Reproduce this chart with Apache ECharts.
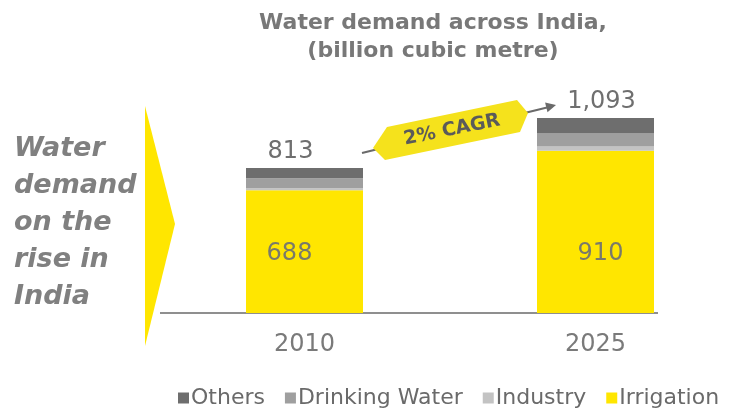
<!DOCTYPE html>
<html>
<head>
<meta charset="utf-8">
<script src="https://cdn.jsdelivr.net/npm/echarts@6/dist/echarts.min.js"></script>
<style>
html,body{margin:0;padding:0;background:#fff;}
#chart{width:731px;height:414px;}
</style>
</head>
<body>
<div id="chart"></div>
<script>
var categories = ['2010', '2025'];
var irrigation = [688, 910];
var industry = [12, 23];
var drinkingWater = [56, 73];
var others = [57, 87];
var totals = [813, 1093];
var legendNames = ['Others', 'Drinking Water', 'Industry', 'Irrigation'];

var FONT = '"DejaVu Sans", "Liberation Sans", Arial, sans-serif';
var chart = echarts.init(document.getElementById('chart'));

var totalOffsets = [[-14, 0], [6, 0]];
var innerOffsets = [[-15, 0], [5, 0]];

function withOffsets(values, offs) {
  return values.map(function (v, i) { return { value: v, label: { offset: offs[i] } }; });
}

var option = {
  backgroundColor: '#ffffff',
  animation: false,
  textStyle: { fontFamily: FONT },
  grid: { left: 304.5, right: 135.5, top: 99, bottom: 101, containLabel: false },
  xAxis: {
    type: 'category',
    data: categories,
    boundaryGap: false,
    axisLine: { show: false },
    axisTick: { show: false },
    axisLabel: { fontSize: 24, color: '#7a7a7a', margin: 20, fontFamily: FONT }
  },
  yAxis: {
    type: 'value',
    min: 0,
    max: 1200,
    show: false,
    splitLine: { show: false }
  },
  legend: {
    data: legendNames,
    left: 178,
    right: 0,
    top: 387,
    padding: 0,
    itemWidth: 11,
    itemHeight: 11,
    itemGap: 20,
    icon: 'rect',
    textStyle: { fontSize: 22, color: '#6a6a6a', fontFamily: FONT, padding: [0, 0, 0, -3] }
  },
  series: [
    {
      name: 'Irrigation', type: 'bar', stack: 'total', barWidth: 117,
      itemStyle: { color: '#FFE600' },
      data: withOffsets(irrigation, innerOffsets),
      label: {
        show: true, position: 'insideBottom', distance: 47,
        fontSize: 24, color: '#7a7a6a', fontFamily: FONT
      }
    },
    {
      name: 'Industry', type: 'bar', stack: 'total', barWidth: 117,
      itemStyle: { color: '#c3c3c3' },
      data: industry
    },
    {
      name: 'Drinking Water', type: 'bar', stack: 'total', barWidth: 117,
      itemStyle: { color: '#9f9f9f' },
      data: drinkingWater
    },
    {
      name: 'Others', type: 'bar', stack: 'total', barWidth: 117,
      itemStyle: { color: '#6e6e6e' },
      data: withOffsets(others, totalOffsets),
      label: {
        show: true, position: 'top', distance: 4,
        fontSize: 24, color: '#6f6f6f', fontFamily: FONT,
        formatter: function (p) { return totals[p.dataIndex].toLocaleString('en-US'); }
      }
    }
  ],
  graphic: [
    {
      type: 'text', x: 433, y: 9,
      style: {
        text: 'Water demand across India,\n(billion cubic metre)',
        font: 'bold 22px ' + FONT, fill: '#787878',
        lineHeight: 28, align: 'center', verticalAlign: 'top'
      }
    },
    {
      type: 'text', x: 14, y: 130,
      style: {
        text: 'Water\ndemand\non the\nrise in\nIndia',
        font: 'italic bold 27px ' + FONT, fill: '#808080',
        lineHeight: 37, verticalAlign: 'top'
      }
    },
    {
      type: 'polygon',
      shape: { points: [[145, 106], [175, 224], [145, 346]] },
      style: { fill: '#FFE600' }
    },
    {
      type: 'line',
      shape: { x1: 160, y1: 313, x2: 658, y2: 313 },
      style: { stroke: '#6a6a6a', lineWidth: 1.5 }
    },
    {
      type: 'line',
      shape: { x1: 362, y1: 153, x2: 547, y2: 107.5 },
      style: { stroke: '#6a6a6a', lineWidth: 2 }
    },
    {
      type: 'polygon',
      shape: { points: [[556, 105], [547.5, 112.3], [545.1, 102.6]] },
      style: { fill: '#6a6a6a' }
    },
    {
      type: 'polygon',
      shape: { points: [[373, 148], [387, 127], [517, 100], [528, 113], [520, 132], [385, 160]] },
      style: { fill: '#F5E21C' }
    },
    {
      type: 'text', x: 452, y: 130,
      rotation: 0.2,
      style: {
        text: '2% CAGR',
        font: 'bold 19px ' + FONT, fill: '#5a5a5a',
        align: 'center', verticalAlign: 'middle'
      }
    }
  ]
};
chart.setOption(option);
</script>
</body>
</html>
